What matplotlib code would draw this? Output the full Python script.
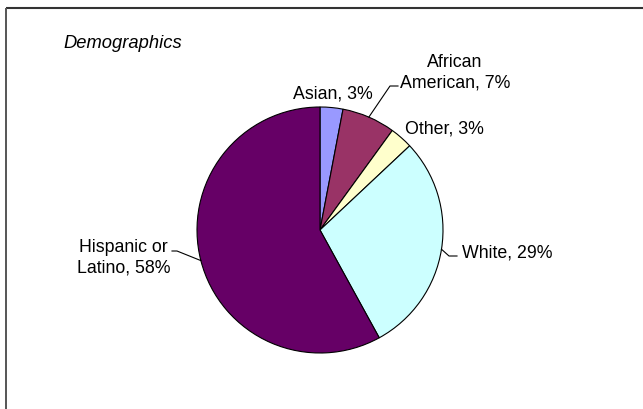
"""
Demographics pie chart, redrawn in the old Excel chart style.
"""

import numpy as np
import matplotlib
matplotlib.use("Agg")
import matplotlib.pyplot as plt

plt.rcParams['font.family'] = ['Liberation Sans', 'DejaVu Sans']

# Data
groups = ['Asian', 'African\nAmerican', 'Other', 'White', 'Hispanic or\nLatino']
shares = [3, 7, 3, 29, 58]
colors = ['#9999FF', '#993366', '#FFFFCC', '#CCFFFF', '#660066']

# Layout (figure pixels, y measured from the top)
W, H = 643, 410
center = (320, 231)
radius = 123
# text anchor, alignment and whether a leader line is drawn
label_pos = [(333, 94), (455, 73), (444, 129), (462, 253), (170, 258)]
label_ha = ['center', 'center', 'center', 'left', 'right']
label_ma = ['center', 'center', 'center', 'left', 'center']
# elbow points of the leader lines, None = no leader
elbows = [None, [(390, 87), (398, 87)], None,
          [(449, 257), (457, 257)], [(177, 252), (172, 252)]]


def flip(y):
    """ Turns a from-the-top pixel y into a data y """
    return H - y


def main():

    fig = plt.figure(figsize=(W / 100, H / 100), dpi=100)
    ax = fig.add_axes([0, 0, 1, 1])

    wedges, _ = ax.pie(shares, colors=colors, startangle=90, counterclock=False,
                       center=(center[0], flip(center[1])), radius=radius,
                       wedgeprops=dict(edgecolor='black', linewidth=0.8),
                       frame=True)

    ax.set_xlim(0, W)
    ax.set_ylim(0, H)
    ax.set_aspect('equal')
    ax.axis('off')

    # Labels with their leader lines
    for i, w in enumerate(wedges):
        name = groups[i]
        text = '%s, %d%%' % (name, shares[i])
        x, y = label_pos[i]
        ax.text(x, flip(y), text, ha=label_ha[i], va='center',
                multialignment=label_ma[i], fontsize=12.8, linespacing=1.25,
                color='black')

        if elbows[i] is not None:
            mid = np.deg2rad((w.theta1 + w.theta2) / 2)
            ex = center[0] + radius * np.cos(mid)
            ey = flip(center[1]) + radius * np.sin(mid)
            xs = [ex] + [p[0] for p in elbows[i]]
            ys = [ey] + [flip(p[1]) for p in elbows[i]]
            ax.plot(xs, ys, color='black', linewidth=0.8)

    # Title
    ax.text(63, flip(43), 'Demographics', ha='left', va='center',
            fontsize=13.2, style='italic', color='black')

    # Chart frame, only the top and left edges fall inside the picture
    ax.plot([5.5, W + 10], [flip(8.5), flip(8.5)], color='#333333', linewidth=1.5,
            solid_capstyle='butt')
    ax.plot([5.5, 5.5], [flip(8.5), -10], color='#555555', linewidth=1.4,
            solid_capstyle='butt')

    fig.savefig('out.png', dpi=100)


if __name__ == "__main__":
    main()
